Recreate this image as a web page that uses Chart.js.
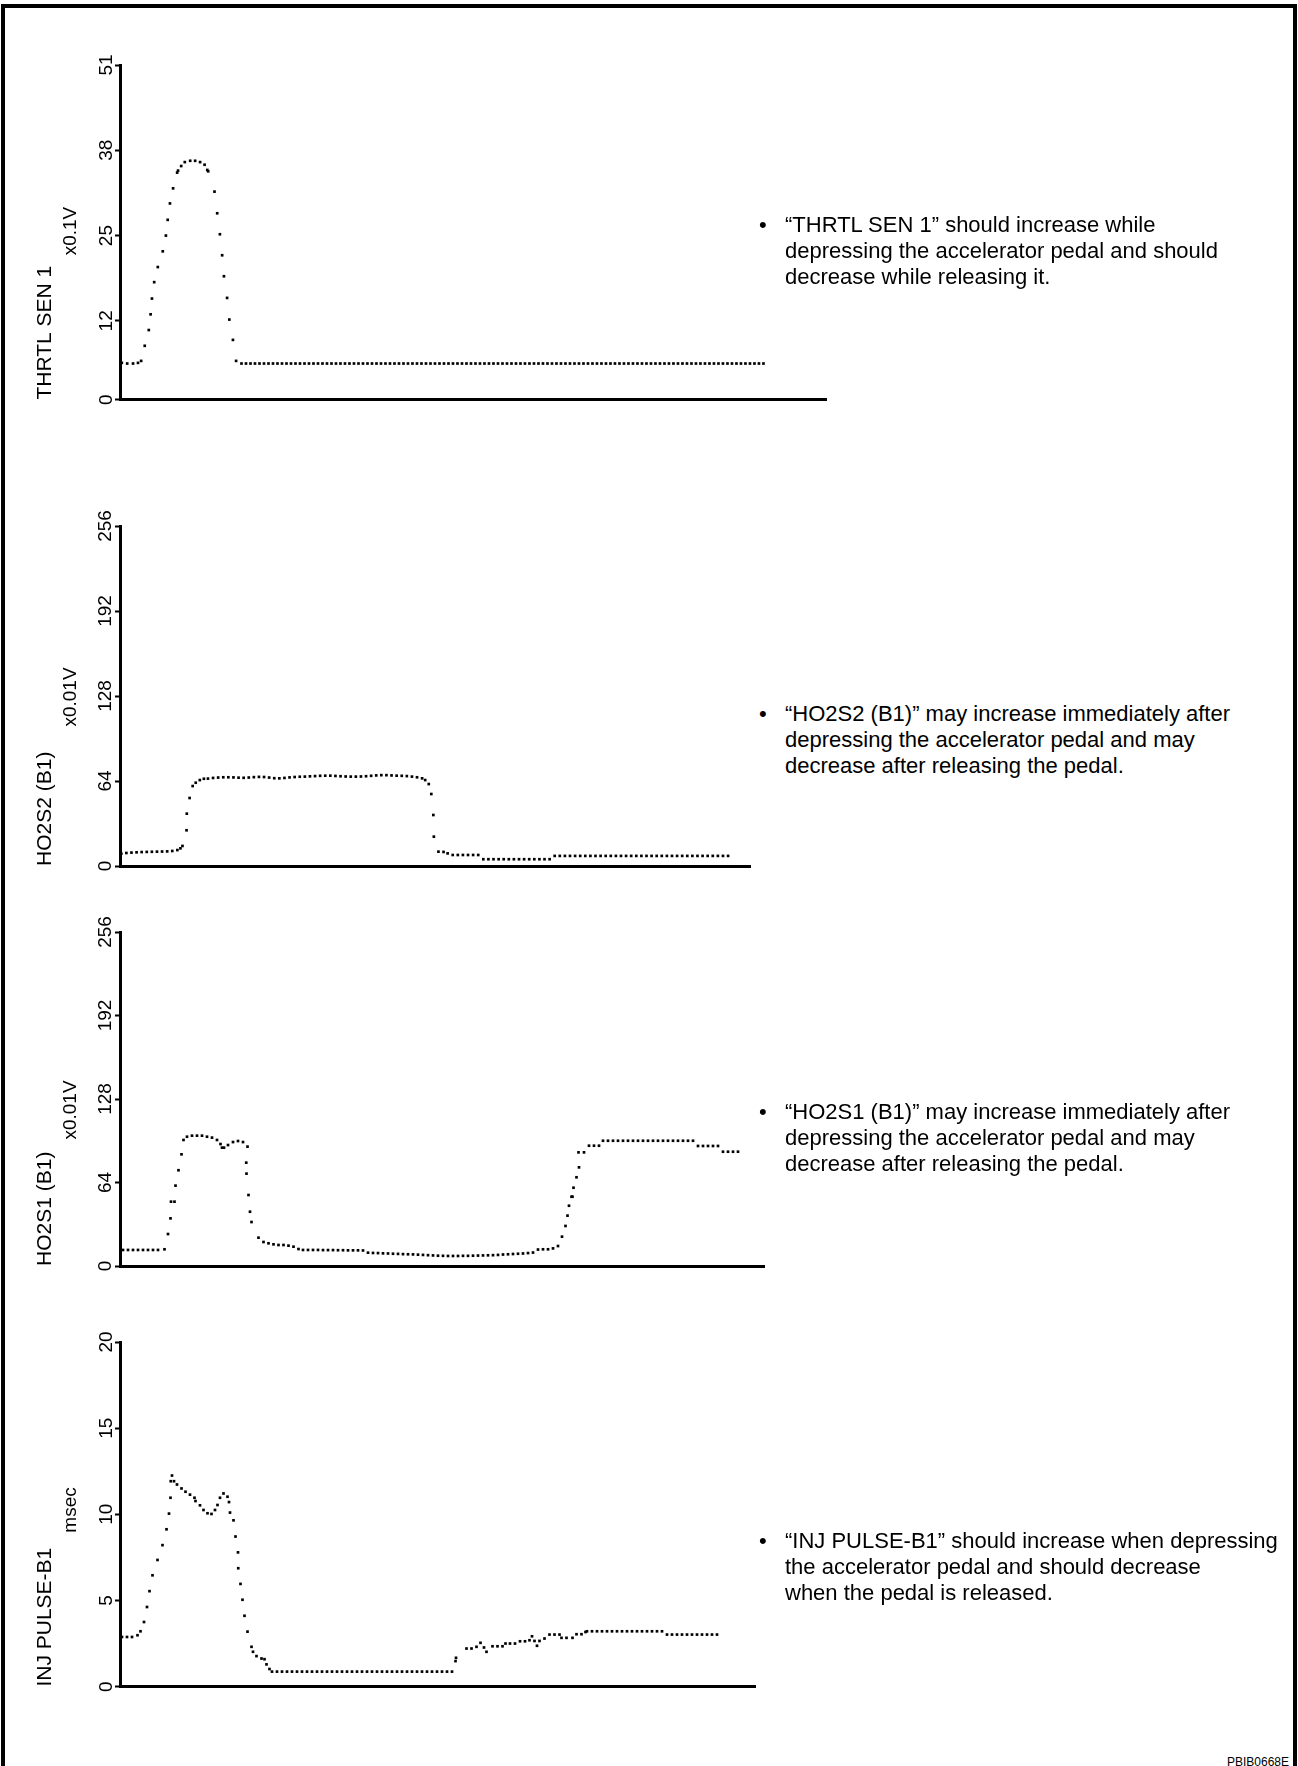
<!DOCTYPE html>
<html lang="en">
<head>
<meta charset="UTF-8">
<title>THRTL SEN 1 / HO2S2 (B1) / HO2S1 (B1) / INJ PULSE-B1</title>
<script src="https://cdn.jsdelivr.net/npm/chart.js"></script>
<style>
  html, body { margin: 0; padding: 0; background: #fff; }
  body { width: 1298px; height: 1766px; position: relative; overflow: hidden;
         font-family: "Liberation Sans", Arial, Helvetica, sans-serif; color: #000; }
  #frame { position: absolute; left: 1px; top: 4px; width: 1296px; height: 1800px;
           border: 4px solid #000; box-sizing: border-box; }
  canvas { position: absolute; left: 0; }
  .note { position: absolute; left: 762px; font-size: 22px; line-height: 26px; }
  .note .dot { position: absolute; left: -3px; top: 0; }
  .note .txt { position: absolute; left: 23px; top: 0; white-space: nowrap; }
  #code { position: absolute; right: 9px; top: 1756px; font-size: 12px; line-height: 12px; }
</style>
</head>
<body>
<div id="frame"></div>

<canvas id="c1" width="832" height="360" style="top:49px"></canvas>
<canvas id="c2" width="756" height="364" style="top:510px"></canvas>
<canvas id="c3" width="770" height="358" style="top:916px"></canvas>
<canvas id="c4" width="761" height="370" style="top:1326px"></canvas>

<div class="note" style="top:212px"><span class="dot">•</span><span class="txt">“THRTL SEN 1” should increase while<br>depressing the accelerator pedal and should<br>decrease while releasing it.</span></div>
<div class="note" style="top:701px"><span class="dot">•</span><span class="txt">“HO2S2 (B1)” may increase immediately after<br>depressing the accelerator pedal and may<br>decrease after releasing the pedal.</span></div>
<div class="note" style="top:1099px"><span class="dot">•</span><span class="txt">“HO2S1 (B1)” may increase immediately after<br>depressing the accelerator pedal and may<br>decrease after releasing the pedal.</span></div>
<div class="note" style="top:1528px"><span class="dot">•</span><span class="txt">“INJ PULSE-B1” should increase when depressing<br>the accelerator pedal and should decrease<br>when the pedal is released.</span></div>

<div id="code">PBIB0668E</div>

<script>
// tick labels of each y axis
const thrtlTicks = [0, 12, 25, 38, 51];
const ho2Ticks = [0, 64, 128, 192, 256];
const injTicks = [0, 5, 10, 15, 20];

// THRTL SEN 1 (x0.1V) - sample time / value
const thrtlTime = [
  0.4,1.6,2.9,4.0,4.7,5.5,6.4,6.8,7.1,7.6,8.4,9.5,10.2,10.6,11.1,11.8,12.7,12.9,13.6,14.4,
  15.6,16.7,17.8,18.8,19.4,19.6,21.0,21.6,22.2,22.7,23.1,23.8,24.3,25.1,25.8,
  27,28,29,30,31,32,33,34,35,36,37,38,39,40,41,42,43,44,45,46,
  47,48,49,50,51,52,53,54,55,56,57,58,59,60,61,62,63,64,65,66,
  67,68,69,70,71,72,73,74,75,76,77,78,79,80,81,82,83,84,85,86,
  87,88,89,90,91,92,93,94,95,96,97,98,99,100,101,102,103,104,105,106,
  107,108,109,110,111,112,113,114,115,116,117,118,119,120,121,122,123,124,125,126,
  127,128,129,130,131,132,133,134,135,136,137,138,139,140,141,142,143
];
const thrtlVolt = [
  5.6,5.5,5.5,5.6,5.9,8.2,10.6,13.0,15.4,17.9,20.2,22.6,25.0,27.4,29.9,32.2,34.6,34.9,35.6,36.2,
  36.4,36.4,36.2,35.8,35.0,34.8,31.7,28.4,25.2,22.0,18.8,15.5,12.2,9.1,5.9,
  5.5,5.5,5.5,5.5,5.5,5.5,5.5,5.5,5.5,5.5,5.5,5.5,5.5,5.5,5.5,5.5,5.5,5.5,5.5,5.5,
  5.5,5.5,5.5,5.5,5.5,5.5,5.5,5.5,5.5,5.5,5.5,5.5,5.5,5.5,5.5,5.5,5.5,5.5,5.5,5.5,
  5.5,5.5,5.5,5.5,5.5,5.5,5.5,5.5,5.5,5.5,5.5,5.5,5.5,5.5,5.5,5.5,5.5,5.5,5.5,5.5,
  5.5,5.5,5.5,5.5,5.5,5.5,5.5,5.5,5.5,5.5,5.5,5.5,5.5,5.5,5.5,5.5,5.5,5.5,5.5,5.5,
  5.5,5.5,5.5,5.5,5.5,5.5,5.5,5.5,5.5,5.5,5.5,5.5,5.5,5.5,5.5,5.5,5.5,5.5,5.5,5.5,
  5.5,5.5,5.5,5.5,5.5,5.5,5.5,5.5,5.5,5.5,5.5,5.5,5.5,5.5,5.5,5.5,5.5
];

// HO2S2 (B1) (x0.01V)
const ho2s2Time = [
  0,1,2,3,4,5,6,7,8,9,10,11,
  11.6,12.0,12.8,12.85,13.4,14.0,14.6,15.4,16.2,
  17,18,19,20,21,22,23,24,25,26,27,28,29,30,31,32,33,34,35,36,37,
  38,39,40,41,42,43,44,45,46,47,48,49,50,51,52,53,54,55,56,57,58,
  59,59.6,60.3,60.8,61.2,61.3,62.2,63.2,64.0,
  65,66,67,68,69,70,
  71,72,73,74,75,76,77,78,79,80,81,82,83,84,
  85,86,87,88,89,90,91,92,93,94,95,96,97,98,99,100,101,102,
  103,104,105,106,107,108,109,110,111,112,113,114,115,116,117,118,119
];
const ho2s2Volt = [
  9.3,9.8,10.1,10.3,10.5,10.6,10.7,10.8,10.9,11.0,11.3,12.0,
  13.3,15.1,26.9,39.4,51.2,60.2,62.7,64.7,65.7,
  65.8,66.3,66.6,66.8,66.8,66.7,66.5,66.4,66.6,66.9,67.1,67.0,66.6,66.1,66.0,66.3,66.7,67.0,67.2,67.3,67.5,
  67.7,67.9,68.0,68.0,67.8,67.6,67.4,67.3,67.3,67.4,67.6,67.9,68.2,68.4,68.4,68.2,68.0,67.9,67.7,67.3,66.8,
  66.0,64.7,61.7,54.2,38.4,22.1,10.8,10.6,9.5,
  8.3,8.3,8.3,8.3,8.3,8.3,
  5.1,5.1,5.1,5.1,5.1,5.1,5.1,5.1,5.1,5.1,5.1,5.1,5.1,5.1,
  7.6,7.6,7.6,7.6,7.6,7.6,7.6,7.6,7.6,7.6,7.6,7.6,7.6,7.6,7.6,7.6,7.6,7.6,
  7.6,7.6,7.6,7.6,7.6,7.6,7.6,7.6,7.6,7.6,7.6,7.6,7.6,7.6,7.6,7.6,7.6
];

// HO2S1 (B1) (x0.01V)
const ho2s1Time = [
  0,1,2,3,4,5,6,7,8.3,
  9.0,9.5,9.6,10.3,10.5,11.1,11.7,12.1,12.8,13.8,
  14.8,15.8,16.8,17.8,18.8,19.5,19.8,20.2,21.0,22.0,
  23.0,24.0,24.9,24.65,24.7,25.1,25.4,25.7,27.1,28.1,
  29.1,30.1,31.1,32.1,33.1,34.1,35.1,
  36,37,38,39,40,41,42,43,44,45,46,47,48,
  49,50,51,52,53,54,55,56,57,58,59,60,61,62,63,64,65,66,67,
  68,69,70,71,72,73,74,75,76,77,78,79,80,81,82,83,84,85,86,
  87,87.8,88.5,88.9,89.2,89.7,89.9,90.1,90.7,91.2,91.1,92.2,93.2,94.2,95.2,
  96,97,98,99,100,101,102,103,104,105,106,107,108,109,110,111,112,113,114,
  115,116,117,118,119,
  120,121,122,123
];
const ho2s1Volt = [
  12.3,12.3,12.3,12.3,12.3,12.3,12.3,12.3,12.8,
  24.5,36.5,49.3,49.3,61.6,73.4,85.6,96.6,99.1,99.9,
  99.9,99.9,99.1,98.4,96.6,93.5,90.7,90.7,92.7,95.0,
  95.8,95.0,91.5,79.2,70.8,54.4,41.6,33.7,21.7,18.4,
  17.4,16.6,16.1,16.1,15.6,14.8,13.0,
  12.3,12.3,12.3,12.3,12.2,12.2,12.2,12.1,12.1,12.0,12.0,12.0,11.9,
  10.2,10.0,9.9,9.7,9.6,9.4,9.3,9.1,9.0,8.9,8.7,8.5,8.3,8.1,7.9,7.8,7.7,7.7,7.7,
  7.8,7.8,7.9,8.0,8.1,8.2,8.3,8.5,8.8,9.0,9.2,9.4,9.6,9.9,10.3,12.6,12.8,12.8,13.5,
  15.3,22.5,30.7,38.6,46.2,53.1,53.1,60.0,68.0,75.6,87.1,87.1,92.2,92.2,92.2,
  96.0,96.0,96.0,96.0,96.0,96.0,96.0,96.0,96.0,96.0,96.0,96.0,96.0,96.0,96.0,96.0,96.0,96.0,96.0,
  92.0,92.0,92.0,92.0,92.0,
  87.6,87.6,87.6,87.6
];

// INJ PULSE-B1 (msec)
const injTime = [
  0,1,2,3.1,3.7,4.4,5.0,5.5,6.1,7.1,8.1,8.9,9.4,9.7,9.75,10.4,10.0,11.0,11.9,12.7,
  13.6,14.5,14.7,15.6,16.3,17.1,17.9,18.6,19.1,19.6,20.3,21.1,21.4,21.6,22.3,22.7,23.2,23.25,23.7,24.1,
  24.5,25.1,25.9,26.2,26.9,27.9,28.5,28.9,29.5,
  30,31,32,33,34,35,36,37,38,39,40,41,42,43,44,45,46,47,48,
  49,50,51,52,53,54,55,56,57,58,59,60,61,62,63,64,65,66,
  66.7,66.8,68.9,69.9,70.9,71.7,72.4,72.9,74.1,75.1,76.1,76.7,77.6,78.6,79.6,80.6,
  81.5,82.0,82.5,83.0,83.5,84.5,85.5,86.5,87.5,87.9,88.9,90.1,90.9,91.9,92.7,
  93,94,95,96,97,98,99,100,101,102,103,104,105,106,107,108,
  109,110,111,112,113,114,115,116,117,118,119
];
const injMs = [
  2.88,2.88,2.88,2.98,3.21,3.75,4.62,5.54,6.46,7.35,8.21,9.13,10.04,10.96,11.92,11.92,12.25,11.73,11.5,11.31,
  11.14,10.96,10.77,10.52,10.25,10.06,10.02,10.25,10.54,10.96,11.21,11.02,10.71,10.10,9.65,8.71,7.79,6.87,5.96,5.04,
  4.11,3.19,2.31,2.02,1.77,1.63,1.59,1.29,1.02,
  0.87,0.87,0.87,0.87,0.87,0.87,0.87,0.87,0.87,0.87,0.87,0.87,0.87,0.87,0.87,0.87,0.87,0.87,0.87,
  0.87,0.87,0.87,0.87,0.87,0.87,0.87,0.87,0.87,0.87,0.87,0.87,0.87,0.87,0.87,0.87,0.87,0.87,
  1.48,1.67,2.21,2.21,2.31,2.54,2.27,2.02,2.34,2.34,2.34,2.50,2.50,2.50,2.63,2.63,
  2.69,2.92,2.65,2.37,2.65,2.79,3.02,3.02,3.02,2.83,2.83,2.83,3.04,3.04,3.17,
  3.21,3.21,3.21,3.21,3.21,3.21,3.21,3.21,3.21,3.21,3.21,3.21,3.21,3.21,3.21,3.21,
  3.02,3.02,3.02,3.02,3.02,3.02,3.02,3.02,3.02,3.02,3.02
];

Chart.defaults.font.family = '"Liberation Sans", Arial, Helvetica, sans-serif';
Chart.defaults.color = '#000';

// unit text written up the left side, above the sensor name
const unitLabel = {
  id: 'unitLabel',
  afterDraw(chart, args, opts) {
    const { ctx, chartArea } = chart;
    ctx.save();
    ctx.translate(opts.x, chartArea.top + opts.offset);
    ctx.rotate(-Math.PI / 2);
    ctx.font = '19px "Liberation Sans", Arial, sans-serif';
    ctx.fillStyle = '#000';
    ctx.textAlign = 'center';
    ctx.textBaseline = 'middle';
    ctx.fillText(opts.text, 0, 0);
    ctx.restore();
  }
};

const panels = [
  { id: 'c1', time: thrtlTime, values: thrtlVolt, xMin: 0, xMax: 156.9, yMax: 51, ticks: thrtlTicks,
    name: 'THRTL SEN 1', unit: 'x0.1V', unitAt: 166, tickPad: -2 },
  { id: 'c2', time: ho2s2Time, values: ho2s2Volt, xMin: -0.25, xMax: 123.3, yMax: 256, ticks: ho2Ticks,
    name: 'HO2S2 (B1)', unit: 'x0.01V', unitAt: 171, tickPad: -7 },
  { id: 'c3', time: ho2s1Time, values: ho2s1Volt, xMin: -0.6, xMax: 128.2, yMax: 256, ticks: ho2Ticks,
    name: 'HO2S1 (B1)', unit: 'x0.01V', unitAt: 178, tickPad: -7 },
  { id: 'c4', time: injTime, values: injMs, xMin: -0.4, xMax: 126.6, yMax: 20, ticks: injTicks,
    name: 'INJ PULSE-B1', unit: 'msec', unitAt: 168, tickPad: -2 }
];

panels.forEach(p => {
  if (p.time.length !== p.values.length) {
    throw new Error(p.name + ': ' + p.time.length + ' times vs ' + p.values.length + ' values');
  }
  new Chart(document.getElementById(p.id), {
    type: 'scatter',
    data: {
      datasets: [{
        data: p.time.map((t, i) => ({ x: t, y: p.values[i] })),
        pointStyle: 'rect',
        pointRadius: 1.9,
        backgroundColor: '#000',
        borderWidth: 0,
        clip: false
      }]
    },
    options: {
      responsive: false,
      animation: false,
      events: [],
      layout: { padding: { top: 16, bottom: 8, right: 6, left: 0 } },
      plugins: {
        legend: { display: false },
        tooltip: { enabled: false },
        unitLabel: { text: p.unit, x: 71, offset: p.unitAt }
      },
      scales: {
        x: {
          type: 'linear', min: p.xMin, max: p.xMax,
          ticks: { display: false },
          grid: { display: false },
          border: { display: true, color: '#000', width: 3 },
          afterFit: s => { s.height = 0; }
        },
        y: {
          type: 'linear', min: 0, max: p.yMax,
          afterBuildTicks: s => { s.ticks = p.ticks.map(v => ({ value: v })); },
          afterFit: s => { s.width = 120; },
          ticks: { autoSkip: false, minRotation: 90, maxRotation: 90, crossAlign: 'center',
                   padding: p.tickPad, color: '#000', font: { size: 19 } },
          grid: { display: true, drawOnChartArea: false, drawTicks: true, tickLength: 5,
                  tickWidth: 2, tickColor: '#000', color: '#000' },
          border: { display: true, color: '#000', width: 3 },
          title: { display: true, text: p.name, align: 'start', color: '#000',
                   font: { size: 21 }, padding: { top: 33, bottom: 0 } }
        }
      }
    },
    plugins: [unitLabel]
  });
});
</script>
</body>
</html>
